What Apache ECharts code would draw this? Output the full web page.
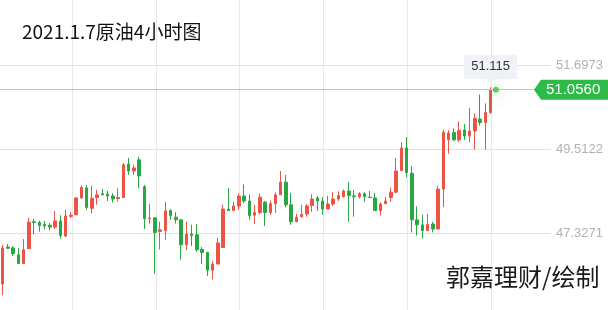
<!DOCTYPE html>
<html><head><meta charset="utf-8">
<script src="https://cdn.jsdelivr.net/npm/echarts@6/dist/echarts.min.js"></script>
<style>html,body{margin:0;padding:0;background:#fff}#c{width:608px;height:310px}</style>
</head><body><div id="c"></div>
<script>
const opens=[46.00,46.96,46.94,46.76,46.53,46.92,47.62,47.60,47.55,47.53,
47.48,47.64,47.25,47.76,47.80,48.24,48.50,47.97,48.25,48.35,
48.34,48.29,48.22,48.25,49.12,48.94,49.23,48.53,47.70,47.72,
47.37,47.39,47.91,47.74,47.67,47.02,47.30,47.28,46.90,46.82,
46.36,46.52,46.95,47.95,47.91,48.03,48.29,48.16,47.79,47.86,
48.13,47.86,48.09,48.32,48.65,48.06,47.62,47.75,47.82,48.04,
48.24,48.16,47.95,48.08,48.21,48.27,48.42,48.29,48.27,48.35,
48.26,48.24,47.91,48.09,48.25,48.39,48.95,49.54,48.88,47.67,
47.54,47.39,47.56,47.43,48.47,49.75,49.94,49.75,50.01,49.85,
49.98,50.29,50.20,50.46];
const closes=[46.94,46.93,46.79,46.53,46.89,47.61,47.60,47.52,47.51,47.48,
47.64,47.26,47.77,47.79,48.24,48.51,47.99,48.23,48.32,48.32,
48.29,48.21,48.25,49.10,48.94,49.02,48.81,47.70,47.72,47.34,
47.41,47.90,47.78,47.67,47.02,47.30,47.26,46.89,46.82,46.36,
46.52,47.07,47.95,47.91,48.03,48.29,48.16,47.78,47.86,48.26,
47.86,48.09,48.32,48.65,48.06,47.62,47.74,47.81,48.03,48.21,
48.16,47.95,48.08,48.21,48.30,48.42,48.30,48.27,48.35,48.27,
48.25,47.91,48.08,48.16,48.39,48.94,49.54,48.90,47.67,47.54,
47.39,47.55,47.43,48.47,49.95,49.93,49.75,50.00,49.85,49.98,
50.31,50.20,50.46,51.056];
const lows=[45.71,46.91,46.73,46.53,46.53,46.92,47.29,47.36,47.42,47.40,
47.43,47.18,47.22,47.72,47.80,48.21,47.93,47.84,48.06,48.31,
48.16,48.12,48.14,48.25,48.84,48.84,48.49,47.43,47.57,46.27,
46.90,47.15,47.67,47.57,46.63,46.89,46.99,46.84,46.52,46.21,
46.12,46.52,46.95,47.91,47.91,47.93,48.10,47.67,47.56,47.81,
47.51,47.80,47.85,48.32,48.00,47.54,47.62,47.73,47.75,47.88,
47.90,47.80,47.95,48.03,48.16,48.25,47.62,47.75,48.23,48.14,
48.25,47.91,47.78,48.09,48.14,48.36,48.95,48.77,47.34,47.26,
47.18,47.39,47.34,47.43,48.00,49.39,49.72,49.69,49.75,49.69,
49.50,50.12,49.50,50.43];
const highs=[47.02,47.04,46.99,46.94,47.17,47.72,47.69,47.65,47.64,47.59,
47.90,47.79,47.93,47.87,48.26,48.57,48.58,48.56,48.45,48.47,
48.42,48.36,48.49,49.15,49.28,49.10,49.31,48.58,48.08,47.74,
47.62,48.13,47.95,47.87,47.69,47.62,47.54,47.56,46.96,46.84,
46.60,47.20,48.06,48.50,48.14,48.36,48.59,48.33,48.06,48.35,
48.16,48.17,48.38,48.94,48.84,48.37,47.82,48.06,48.08,48.34,
48.29,48.26,48.29,48.39,48.41,48.46,48.65,48.45,48.39,48.39,
48.42,48.37,48.13,48.27,48.51,49.28,49.69,49.82,49.07,48.02,
47.80,47.82,47.62,48.55,50.01,50.00,50.05,50.23,50.16,50.58,
50.44,50.93,50.70,51.115];
const yTicks=[47.3271,49.5122,51.6973];
const lastPrice=51.0560;
const lastHigh=51.115;
const totalSlots=105;
const titleText='2021.1.7原油4小时图';
const signText='郭嘉理财/绘制';

const categories=Array.from({length:totalSlots},(_,i)=>'K'+(i+1));
const tickStep=yTicks[1]-yTicks[0];
const candleData=opens.map((o,i)=>[o,closes[i],lows[i],highs[i]]);
const RED='#eb5546', GREEN='#27a844';
const chart=echarts.init(document.getElementById('c'));
chart.setOption({
  animation:false,
  title:[
    {text:titleText,left:22,top:22,padding:0,textStyle:{fontSize:19,fontWeight:'normal',color:'#111',fontFamily:'Noto Sans CJK SC'}},
    {text:signText,left:446,top:265,padding:0,textStyle:{fontSize:24,fontWeight:'normal',color:'#1a1a1a',fontFamily:'Noto Sans CJK SC'}}
  ],
  grid:[{left:0,right:57,top:-19,bottom:-7,outerBoundsMode:'none',containLabel:false},
        {left:72,width:419,top:0,bottom:0,outerBoundsMode:'none',containLabel:false}],
  xAxis:[
    {type:'category',gridIndex:0,data:categories,boundaryGap:true,axisLine:{show:false},axisTick:{show:false},axisLabel:{show:false},splitLine:{show:false}},
    {type:'value',gridIndex:1,min:0,max:5,interval:1,axisLine:{show:false},axisTick:{show:false},axisLabel:{show:false},splitLine:{show:true,lineStyle:{color:'#e8e8eb',width:1}}}
  ],
  yAxis:[
    {type:'value',gridIndex:0,position:'right',min:yTicks[0]-tickStep,max:yTicks[2]+tickStep,interval:tickStep,
     axisLine:{show:false},axisTick:{show:false},
     axisLabel:{margin:5,color:'#b0b0b8',fontSize:13,fontFamily:'Liberation Sans',formatter:v=>v.toFixed(4)},
     splitLine:{lineStyle:{color:'#e2e2e5'}}},
    {type:'value',gridIndex:1,show:false,min:0,max:1}
  ],
  series:[
    {type:'candlestick',xAxisIndex:0,yAxisIndex:0,data:candleData,barWidth:3,
     itemStyle:{color:RED,color0:GREEN,borderColor:RED,borderColor0:GREEN,borderWidth:1},
     markLine:{silent:true,symbol:['none','none'],data:[{yAxis:lastPrice}],lineStyle:{color:'#a3dca3',width:1,type:'solid'},label:{show:false}},
     markPoint:{silent:true,data:[{coord:[closes.length-1,lastHigh],value:lastHigh}],
       symbol:'path://M0,0L53,0L53,24L30.5,24L26.5,29L22.5,24L0,24Z',symbolSize:[53,29],symbolOffset:[0,-18],
       itemStyle:{color:'#eff2f6'},
       label:{show:true,color:'#333',fontSize:13,fontFamily:'Liberation Sans',offset:[0,-2.5],formatter:p=>p.value.toFixed(3)}}
    },
    {type:'scatter',xAxisIndex:0,yAxisIndex:0,data:[[closes.length,lastPrice]],symbolSize:6,silent:true,z:5,
     itemStyle:{color:'#3cc43c',shadowBlur:18,shadowColor:'rgba(60,210,60,1)'}}
  ]
});
const pt=chart.convertToPixel({seriesIndex:0},[closes.length-1,lastPrice]);
const py=pt[1];
chart.setOption({graphic:[
  {type:'polygon',z:10,shape:{points:[[534,py],[541,py-10],[608,py-10],[608,py+10],[541,py+10]]},style:{fill:'#2dbb48'}},
  {type:'text',z:11,x:546,y:py,style:{text:lastPrice.toFixed(4),fill:'#fff',fontSize:15,fontFamily:'Liberation Sans',verticalAlign:'middle'}}
]});
</script></body></html>
